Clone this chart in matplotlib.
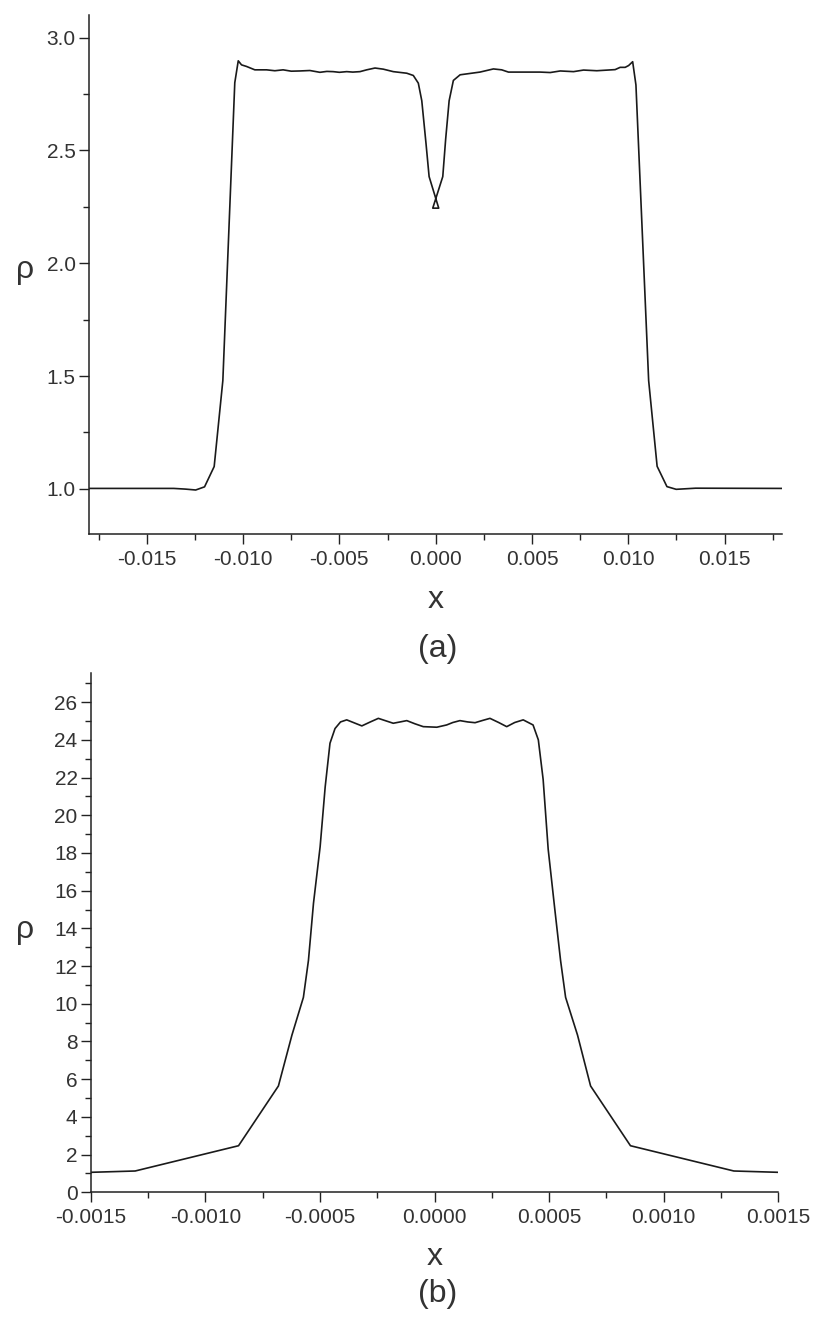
import matplotlib
matplotlib.use('Agg')
from matplotlib import pyplot as plt
from matplotlib.ticker import MultipleLocator, FormatStrFormatter

plt.rcParams['font.family'] = ['Liberation Sans', 'DejaVu Sans']

# (a) density profile
xa = [-0.0180, -0.0150, -0.0136, -0.0130, -0.01246, -0.0120, -0.0115, -0.01105,
      -0.01043, -0.01025, -0.01008, -0.00982, -0.00939, -0.00878, -0.00835,
      -0.00792, -0.00750, -0.00705, -0.00653, -0.00601, -0.00565, -0.00532,
      -0.00500, -0.00462, -0.00430, -0.00393, -0.00358, -0.00315, -0.00272,
      -0.00220, -0.00150, -0.00116, -0.00090, -0.00072, -0.00050, -0.00034,
      0.00016, -0.00015,
      0.00037, 0.00052, 0.00070, 0.00092, 0.00127, 0.00230, 0.00300, 0.00343,
      0.00378, 0.00473, 0.00543, 0.00595, 0.00647, 0.00716, 0.00768, 0.00837,
      0.00932, 0.00958, 0.00984, 0.01002, 0.01023, 0.01040, 0.01106, 0.01150,
      0.01201, 0.01249, 0.01350, 0.01800]
rho_a = [1.002, 1.002, 1.002, 0.999, 0.995, 1.009, 1.099, 1.48,
         2.80, 2.897, 2.879, 2.872, 2.857, 2.857, 2.853,
         2.857, 2.851, 2.852, 2.854, 2.846, 2.850, 2.849,
         2.846, 2.849, 2.847, 2.849, 2.857, 2.865, 2.860,
         2.849, 2.842, 2.832, 2.798, 2.72, 2.53, 2.384,
         2.244, 2.244,
         2.384, 2.55, 2.72, 2.81, 2.835, 2.847, 2.861, 2.857,
         2.847, 2.847, 2.847, 2.845, 2.852, 2.849, 2.856, 2.853,
         2.858, 2.868, 2.868, 2.876, 2.893, 2.79, 1.48, 1.10,
         1.01, 0.998, 1.003, 1.002]

# (b) density profile
xb = [-0.0015, -0.001306, -0.000855, -0.000681, -0.000622, -0.000572, -0.000550,
      -0.000528, -0.000499, -0.000477, -0.000456, -0.000434, -0.000410, -0.000383,
      -0.000350, -0.000317, -0.000280, -0.000245, -0.000210, -0.000180, -0.000150,
      -0.000121, -0.000085, -0.000049, 0.000010, 0.000053, 0.000080, 0.000111,
      0.000145, 0.000177, 0.000210, 0.000242, 0.000280, 0.000315, 0.000350,
      0.000387, 0.000430, 0.000453, 0.000474, 0.000496, 0.000525, 0.000550,
      0.000572, 0.000624, 0.000681, 0.000855, 0.001306, 0.0015]
rho_b = [1.06, 1.13, 2.47, 5.64, 8.34, 10.34, 12.3,
         15.33, 18.33, 21.5, 23.82, 24.6, 24.95, 25.06,
         24.9, 24.74, 24.95, 25.14, 25.0, 24.88, 24.95,
         25.02, 24.85, 24.70, 24.67, 24.79, 24.92, 25.02,
         24.95, 24.91, 25.03, 25.14, 24.92, 24.70, 24.92,
         25.06, 24.79, 24.0, 21.9, 18.2, 15.0, 12.3,
         10.34, 8.34, 5.64, 2.47, 1.13, 1.06]

txt = '#333333'
W, H = 830, 1325

fig = plt.figure(figsize=(8.3, 13.25), dpi=100)


def style(ax):
    for s in ['top', 'right']:
        ax.spines[s].set_visible(False)
    for s in ['left', 'bottom']:
        ax.spines[s].set_linewidth(1.1)
        ax.spines[s].set_color('#222222')
    ax.tick_params(which='major', direction='out', length=7.5, width=1.0,
                   labelsize=15, labelcolor=txt, color='#222222')
    ax.tick_params(which='minor', direction='out', length=4.2, width=1.0,
                   color='#222222')
    ax.tick_params(axis='y', which='major', pad=2)
    ax.tick_params(axis='x', which='major', pad=4)


# panel (a)
ax1 = fig.add_axes([89 / W, 1 - 534 / H, (782.3 - 89) / W, (534 - 15) / H])
ax1.plot(xa, rho_a, color='#1a1a1a', lw=1.2)
ax1.set_xlim(-0.018, 0.018)
ax1.set_ylim(0.80, 3.10)
ax1.xaxis.set_major_locator(MultipleLocator(0.005))
ax1.xaxis.set_minor_locator(MultipleLocator(0.0025))
ax1.yaxis.set_major_locator(MultipleLocator(0.5))
ax1.yaxis.set_minor_locator(MultipleLocator(0.25))
ax1.xaxis.set_major_formatter(FormatStrFormatter('%.3f'))
ax1.yaxis.set_major_formatter(FormatStrFormatter('%.1f'))
style(ax1)

# panel (b)
ax2 = fig.add_axes([90.7 / W, 1 - 1192.3 / H, (778.3 - 90.7) / W, (1192.3 - 673.3) / H])
ax2.plot(xb, rho_b, color='#1a1a1a', lw=1.2)
ax2.set_xlim(-0.0015, 0.0015)
ax2.set_ylim(0, 27.53)
ax2.xaxis.set_major_locator(MultipleLocator(0.0005))
ax2.xaxis.set_minor_locator(MultipleLocator(0.00025))
ax2.yaxis.set_major_locator(MultipleLocator(2))
ax2.yaxis.set_minor_locator(MultipleLocator(1))
ax2.xaxis.set_major_formatter(FormatStrFormatter('%.4f'))
ax2.yaxis.set_major_formatter(FormatStrFormatter('%d'))
style(ax2)

# axis labels and captions
fig.text(25 / W, 1 - 278 / H, 'ρ', fontsize=23, color=txt, ha='center', va='baseline')
fig.text(25 / W, 1 - 938 / H, 'ρ', fontsize=23, color=txt, ha='center', va='baseline')
fig.text(435.7 / W, 1 - 608 / H, 'x', fontsize=23, color=txt, ha='center', va='baseline')
fig.text(438 / W, 1 - 657 / H, '(a)', fontsize=23, color=txt, ha='center', va='baseline')
fig.text(434.5 / W, 1 - 1265 / H, 'x', fontsize=23, color=txt, ha='center', va='baseline')
fig.text(438 / W, 1 - 1302 / H, '(b)', fontsize=23, color=txt, ha='center', va='baseline')

fig.savefig('out.png', dpi=100)
